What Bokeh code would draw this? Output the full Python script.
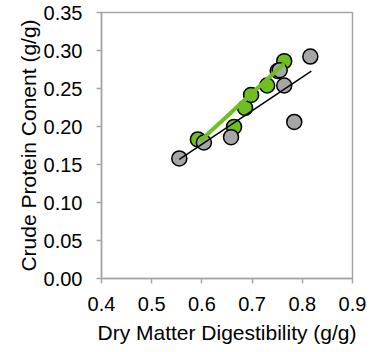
from bokeh.plotting import figure
from bokeh.models import Range1d, FixedTicker, NumeralTickFormatter
from bokeh.embed import file_html
from bokeh.resources import INLINE

# Data
gray_x = [0.555, 0.604, 0.658, 0.755, 0.764, 0.784, 0.816]
gray_y = [0.158, 0.179, 0.186, 0.274, 0.254, 0.206, 0.292]

green_x = [0.592, 0.664, 0.686, 0.698, 0.730, 0.751, 0.764]
green_y = [0.183, 0.1995, 0.2245, 0.2416, 0.254, 0.273, 0.286]

# Trend-line endpoints
gray_trend_x = [0.555, 0.818]
gray_trend_y = [0.1566, 0.2727]
green_trend_x = [0.596, 0.764]
green_trend_y = [0.1807, 0.283]

x_ticks = [0.4, 0.5, 0.6, 0.7, 0.8, 0.9]
y_ticks = [0.00, 0.05, 0.10, 0.15, 0.20, 0.25, 0.30, 0.35]

FONT = "Liberation Sans"
AXIS_GRAY = "#a6a6a6"
GREEN = "#6fbe22"

p = figure(width=375, height=352, output_backend="svg", toolbar_location=None,
           x_range=Range1d(0.4, 0.9), y_range=Range1d(0.0, 0.35),
           min_border_left=101, min_border_right=23, min_border_top=12, min_border_bottom=74)

p.xgrid.visible = False
p.ygrid.visible = False
p.outline_line_color = AXIS_GRAY
p.outline_line_width = 1.5
p.background_fill_color = "white"
p.border_fill_color = "white"

p.scatter(green_x, green_y, size=15, fill_color=GREEN, line_color="black", line_width=1.5)
p.scatter(gray_x, gray_y, size=15, fill_color="#a6a6a6", line_color="black", line_width=1.5)
p.line(green_trend_x, green_trend_y, line_color=GREEN, line_width=4)
p.line(gray_trend_x, gray_trend_y, line_color="black", line_width=1.5)

for ax in (p.xaxis, p.yaxis):
    ax.axis_line_color = AXIS_GRAY
    ax.axis_line_width = 1.5
    ax.major_tick_line_color = AXIS_GRAY
    ax.major_tick_line_width = 1.5
    ax.major_tick_in = 0
    ax.major_tick_out = 5
    ax.minor_tick_line_color = None
    ax.major_label_text_font = FONT
    ax.major_label_text_font_size = "20px"
    ax.major_label_text_color = "black"
    ax.axis_label_text_font = FONT
    ax.axis_label_text_font_size = "21px"
    ax.axis_label_text_font_style = "normal"
    ax.axis_label_text_color = "black"

p.xaxis.ticker = FixedTicker(ticks=x_ticks)
p.yaxis.ticker = FixedTicker(ticks=y_ticks)
p.xaxis.formatter = NumeralTickFormatter(format="0.0")
p.yaxis.formatter = NumeralTickFormatter(format="0.00")
p.xaxis.major_label_standoff = 13
p.yaxis.major_label_standoff = 14
p.xaxis.axis_label = "Dry Matter Digestibility (g/g)"
p.yaxis.axis_label = "Crude Protein Conent (g/g)"
p.xaxis.axis_label_standoff = 7
p.yaxis.axis_label_standoff = 1

open("out.html", "w").write(file_html(p, INLINE))
